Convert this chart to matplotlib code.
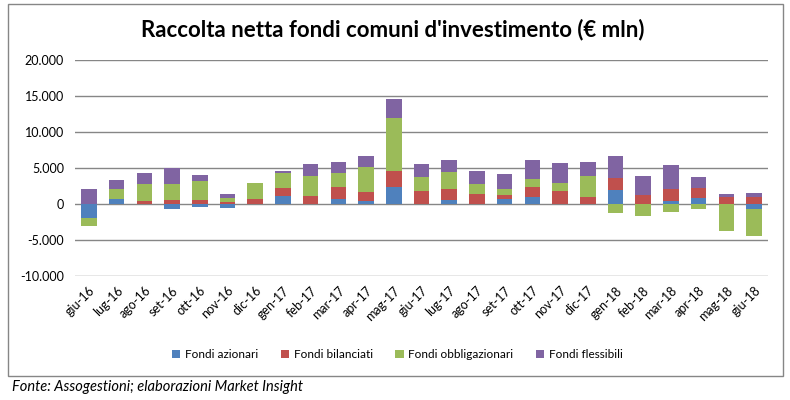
import matplotlib.pyplot as plt
from matplotlib.patches import Rectangle
import numpy as np

months = ["giu-16", "lug-16", "ago-16", "set-16", "ott-16", "nov-16", "dic-16",
          "gen-17", "feb-17", "mar-17", "apr-17", "mag-17", "giu-17", "lug-17",
          "ago-17", "set-17", "ott-17", "nov-17", "dic-17", "gen-18", "feb-18",
          "mar-18", "apr-18", "mag-18", "giu-18"]

azionari = [-1900, 650, 0, -650, -370, -500, 0, 1110, 0, 700, 460, 2310, 0, 560,
            0, 650, 930, 0, 0, 1990, 0, 420, 790, 0, -740]
bilanciati = [0, 0, 420, 550, 550, 280, 700, 1160, 1110, 1620, 1200, 2270, 1850, 1530,
              1390, 560, 1390, 1800, 1020, 1620, 1200, 1710, 1440, 930, 1020]
obbligazionari = [-1100, 1430, 2360, 2220, 2640, 600, 2180, 2040, 2780, 2040, 3470, 7360,
                  1940, 2410, 1390, 930, 1160, 1110, 2870, -1200, -1620, -1060, -740,
                  -3700, -3660]
flessibili = [2100, 1250, 1530, 2180, 830, 510, 100, 280, 1670, 1480, 1530, 2590,
              1760, 1620, 1850, 2040, 2640, 2780, 1940, 3060, 2690, 3290, 1530, 460, 460]

series = [("Fondi azionari", azionari, "#4F81BD"),
          ("Fondi bilanciati", bilanciati, "#C0504D"),
          ("Fondi obbligazionari", obbligazionari, "#9BBB59"),
          ("Fondi flessibili", flessibili, "#8064A2")]

plt.rcParams['font.family'] = ['Lato', 'DejaVu Sans']

fig = plt.figure(figsize=(7.9, 4.0), dpi=100)
ax = fig.add_axes([0.095, 0.31, 0.877, 0.54])

x = np.arange(len(months))
pos_base = np.zeros(len(months))
neg_base = np.zeros(len(months))
for name, vals, color in series:
    v = np.array(vals, dtype=float)
    base = np.where(v >= 0, pos_base, neg_base)
    ax.bar(x, v, bottom=base, width=0.56, color=color, label=name, zorder=3)
    pos_base += np.where(v >= 0, v, 0)
    neg_base += np.where(v < 0, v, 0)

ax.set_xlim(-0.5, len(months) - 0.5)
ax.set_ylim(-10000, 20000)
ax.set_yticks(np.arange(-10000, 20001, 5000))
ax.set_yticklabels([f"{t:,}".replace(",", ".") for t in range(-10000, 20001, 5000)], fontsize=9)
ax.set_xticks(x)
ax.set_xticklabels(months, rotation=45, ha="right", rotation_mode="anchor", fontsize=9)
ax.tick_params(axis="y", length=0, pad=8)
ax.tick_params(axis="x", length=0, pad=6)
ax.grid(axis="y", color="#868686", linewidth=1, zorder=0)
for s in ax.spines.values():
    s.set_visible(False)

fig.text(0.497, 0.925, "Raccolta netta fondi comuni d'investimento (€ mln)",
         ha="center", va="center", fontsize=16, fontweight="bold")

fig.legend(loc="center", bbox_to_anchor=(0.503, 0.113), ncol=4, frameon=False,
           fontsize=8.5, handlelength=0.7, handleheight=0.7, columnspacing=1.9,
           handletextpad=0.4)

fig.patches.append(Rectangle((8 / 790, 1 - 376 / 400), 775 / 790, 372 / 400,
                             transform=fig.transFigure, fill=False,
                             edgecolor="#868686", linewidth=1))

fig.text(12 / 790, 1 - 387 / 400, "Fonte: Assogestioni; elaborazioni Market Insight",
         ha="left", va="center", fontsize=10.5, style="italic")

fig.savefig("out.png", dpi=100)
